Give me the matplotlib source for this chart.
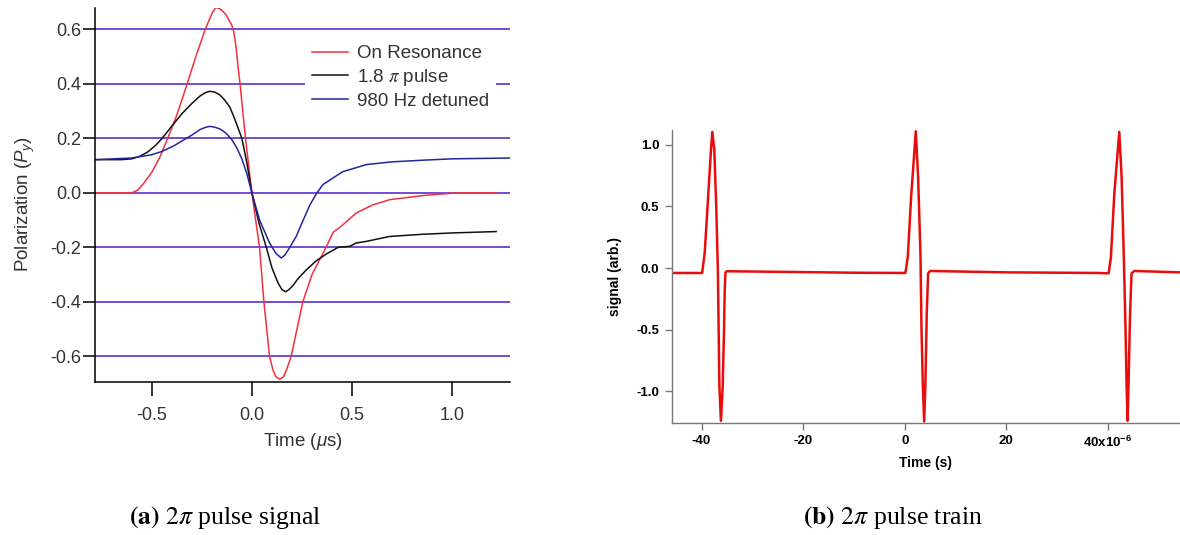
import matplotlib
matplotlib.use("Agg")
from matplotlib import pyplot as plt
from matplotlib.font_manager import FontProperties

# --- (a) polarization vs time, microseconds ---
t_res = [-0.783, -0.6, -0.57, -0.54, -0.5, -0.46, -0.42, -0.375, -0.323, -0.28,
         -0.233, -0.21, -0.195, -0.18, -0.165, -0.15, -0.13, -0.115, -0.1, -0.09,
         -0.08, -0.07, -0.059, -0.032, 0.0, 0.019, 0.038, 0.06, 0.088, 0.105,
         0.12, 0.139, 0.158, 0.175, 0.196, 0.225, 0.254, 0.3, 0.37, 0.405,
         0.45, 0.52, 0.6, 0.687, 0.85, 1.02, 1.219]
p_res = [0.0, 0.0, 0.01, 0.035, 0.075, 0.13, 0.2, 0.285, 0.4, 0.5,
         0.6, 0.64, 0.665, 0.68, 0.678, 0.67, 0.655, 0.635, 0.615, 0.59,
         0.54, 0.47, 0.4, 0.2, 0.0, -0.1, -0.2, -0.4, -0.6, -0.65,
         -0.675, -0.684, -0.675, -0.645, -0.6, -0.5, -0.4, -0.3, -0.2, -0.145,
         -0.12, -0.074, -0.045, -0.025, -0.01, 0.0, 0.0]

t_18pi = [-0.783, -0.65, -0.6, -0.56, -0.52, -0.48, -0.448, -0.4, -0.35, -0.3,
          -0.26, -0.235, -0.211, -0.185, -0.16, -0.135, -0.11, -0.085, -0.05, -0.025,
          0.0, 0.035, 0.072, 0.1, 0.13, 0.15, 0.168, 0.185, 0.205, 0.23,
          0.271, 0.32, 0.37, 0.43, 0.489, 0.52, 0.571, 0.687, 0.85, 1.0, 1.219]
p_18pi = [0.122, 0.122, 0.125, 0.134, 0.15, 0.175, 0.2, 0.245, 0.29, 0.328,
          0.355, 0.367, 0.373, 0.37, 0.36, 0.34, 0.315, 0.27, 0.2, 0.11,
          0.0, -0.11, -0.2, -0.275, -0.33, -0.355, -0.363, -0.355, -0.34, -0.315,
          -0.283, -0.25, -0.225, -0.2, -0.196, -0.184, -0.178, -0.16, -0.152, -0.147, -0.142]

t_det = [-0.783, -0.6, -0.5, -0.45, -0.394, -0.35, -0.3, -0.26, -0.23, -0.211,
         -0.19, -0.16, -0.13, -0.1, -0.075, -0.05, -0.025, 0.0, 0.039, 0.089,
         0.12, 0.146, 0.165, 0.189, 0.221, 0.25, 0.289, 0.32, 0.354, 0.405,
         0.454, 0.5, 0.571, 0.7, 0.853, 1.0, 1.288]
p_det = [0.122, 0.128, 0.14, 0.152, 0.171, 0.19, 0.212, 0.232, 0.241, 0.244,
         0.242, 0.235, 0.22, 0.195, 0.165, 0.125, 0.07, 0.0, -0.101, -0.185,
         -0.222, -0.239, -0.228, -0.2, -0.16, -0.11, -0.045, -0.005, 0.03, 0.055,
         0.078, 0.088, 0.104, 0.114, 0.12, 0.125, 0.128]

pol_ticks = [-0.6, -0.4, -0.2, 0.0, 0.2, 0.4, 0.6]
time_ticks = [-0.5, 0.0, 0.5, 1.0]

# --- (b) pulse train, microseconds (axis labelled x10^-6 s) ---
train_t = [-45.9, -42.0, -39.9, -39.4, -38.8, -38.2, -37.9, -37.5, -37.1, -36.8,
           -36.5, -36.2, -35.85, -35.6, -35.45, -35.3, -35.0, -20.0, -10.0, 0.0,
           0.14, 0.6, 1.26, 2.17, 2.63, 3.09, 3.29, 3.55, 3.82, 4.07,
           4.33, 4.6, 5.0, 20.0, 38.0, 40.14, 40.6, 41.26, 42.24, 42.7,
           43.1, 43.42, 43.68, 43.88, 44.07, 44.35, 44.66, 45.2, 54.2]
train_v = [-0.04, -0.04, -0.04, 0.12, 0.52, 0.93, 1.105, 0.96, 0.47, -0.02,
           -0.96, -1.24, -0.96, -0.53, -0.18, -0.035, -0.026, -0.033, -0.038, -0.04,
           -0.038, 0.09, 0.58, 1.11, 0.74, 0.12, -0.48, -0.935, -1.245, -0.935,
           -0.37, -0.043, -0.024, -0.035, -0.04, -0.043, 0.09, 0.6, 1.105, 0.74,
           0.146, -0.395, -0.935, -1.24, -0.935, -0.395, -0.043, -0.024, -0.035]

sig_ticks = [-1.0, -0.5, 0.0, 0.5, 1.0]
train_ticks = [-40, -20, 0, 20, 40]
train_labels = ['-40', '-20', '0', '20', r'40x10$^{\mathbf{-6}}$']

plt.rcParams['mathtext.fontset'] = 'custom'
plt.rcParams['mathtext.rm'] = 'Liberation Sans'
plt.rcParams['mathtext.it'] = 'Liberation Sans:italic'
plt.rcParams['mathtext.bf'] = 'Liberation Sans:bold'

fig = plt.figure(figsize=(11.8, 5.35), dpi=100)

# left panel
ax1 = fig.add_axes([0.0805, 0.2866, 0.3517, 0.6991])
ax1.plot(t_res, p_res, color='#f2303f', lw=1.1, label='On Resonance')
ax1.plot(t_18pi, p_18pi, color='#111111', lw=1.1, label=r'1.8 $\pi$ pulse')
ax1.plot(t_det, p_det, color='#25259a', lw=1.1, label='980 Hz detuned')
ax1.set_xlim(-0.783, 1.288)
ax1.set_ylim(-0.693, 0.68)
ax1.set_xticks(time_ticks)
ax1.set_xticklabels(['%.1f' % v for v in time_ticks])
ax1.set_yticks(pol_ticks)
ax1.set_yticklabels(['%.1f' % v for v in pol_ticks])
ax1.yaxis.grid(True, color='#5a2fd0', lw=1.2)
for s in ['top', 'right']:
    ax1.spines[s].set_visible(False)
for s in ['left', 'bottom']:
    ax1.spines[s].set_linewidth(1.1)
ax1.tick_params(axis='x', length=10, width=1.1, pad=8, labelsize=13, labelcolor='#333333')
ax1.tick_params(axis='y', length=8.5, width=1.1, pad=1.5, labelsize=13, labelcolor='#333333')
for lab in ax1.get_xticklabels() + ax1.get_yticklabels():
    lab.set_family('Liberation Sans')
ax1.set_xlabel(r'Time ($\mu$s)', fontsize=13.5, family='Liberation Sans', color='#333333', labelpad=5)
ax1.set_ylabel(r'Polarization ($P_y$)', fontsize=13.5, family='Liberation Sans', color='#333333')
ax1.yaxis.set_label_coords(-0.14, 0.475)
leg_font = FontProperties(family='Liberation Sans', size=13.5, math_fontfamily='stix')
leg = ax1.legend(loc='upper left', bbox_to_anchor=(0.506, 0.92), borderaxespad=0,
                 prop=leg_font, frameon=True, fancybox=False, framealpha=1,
                 edgecolor='none', facecolor='white', handlelength=1.9,
                 handletextpad=0.45, labelspacing=0.25, borderpad=0.4)
for txt in leg.get_texts():
    txt.set_color('#333333')

# right panel
ax2 = fig.add_axes([0.5692, 0.2099, 0.4308, 0.5471])
ax2.plot(train_t, train_v, color='#e80c0c', lw=1.8)
ax2.set_xlim(-45.9, 54.2)
ax2.set_ylim(-1.255, 1.12)
ax2.set_xticks(train_ticks)
ax2.set_xticklabels(train_labels)
ax2.set_yticks(sig_ticks)
ax2.set_yticklabels(['%.1f' % v for v in sig_ticks])
for s in ['top', 'right']:
    ax2.spines[s].set_visible(False)
for s in ['left', 'bottom']:
    ax2.spines[s].set_color('#777777')
    ax2.spines[s].set_linewidth(1.0)
ax2.tick_params(length=5, width=1.0, color='#777777', pad=4, labelsize=9.5)
for lab in ax2.get_xticklabels() + ax2.get_yticklabels():
    lab.set_family('Liberation Sans')
    lab.set_weight('bold')
ax2.set_xlabel('Time (s)', fontsize=10, family='Liberation Sans', weight='bold', labelpad=4)
ax2.set_ylabel('signal (arb.)', fontsize=10, family='Liberation Sans', weight='bold', labelpad=10)

# sub-figure captions
fig.text(0.191, 0.032, r'$\mathbf{(a)}$ $2\pi$ pulse signal', ha='center', va='center',
         fontsize=18.5, family='Liberation Serif', math_fontfamily='stix')
fig.text(0.757, 0.032, r'$\mathbf{(b)}$ $2\pi$ pulse train', ha='center', va='center',
         fontsize=18.5, family='Liberation Serif', math_fontfamily='stix')

fig.savefig('out.png', dpi=100)
